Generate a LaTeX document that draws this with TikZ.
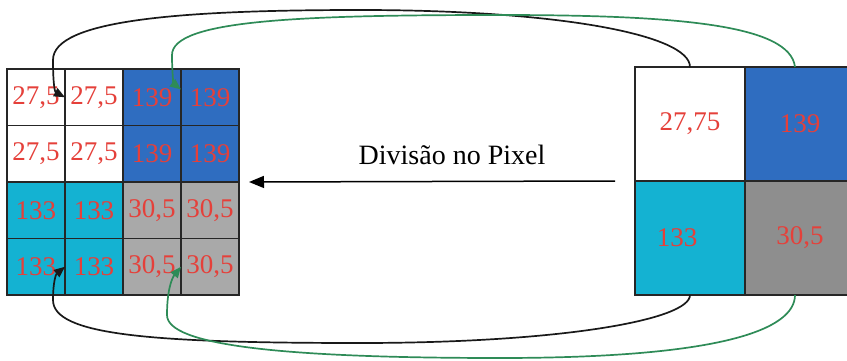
\documentclass[tikz,border=0pt]{standalone}
\usepackage{fontspec}
\setmainfont{Liberation Serif}
\usetikzlibrary{arrows.meta}
\definecolor{cellblue}{HTML}{2F6DC0}
\definecolor{cellcyan}{HTML}{14B2D2}
\definecolor{cellgray}{HTML}{A9A9A9}
\definecolor{darkgray}{HTML}{8E8E8E}
\definecolor{numred}{HTML}{E5403A}
\definecolor{linkgreen}{HTML}{2E8B57}
\begin{document}
\begin{tikzpicture}[x=1pt,y=-1pt,
  cell/.style={draw=black!85, line width=1.6pt, minimum width=58pt, minimum height=56.5pt,
    inner sep=0pt, outer sep=0pt, anchor=north west, text=numred,
    font=\fontsize{27}{27}\selectfont},
  bigcell/.style={cell, minimum width=110pt, minimum height=114pt},
  link/.style={line width=1.7pt, -{Triangle[length=11pt,width=9pt]}},
  mainarrow/.style={line width=1.5pt, -{Triangle[length=15pt,width=12pt]}}]
\useasboundingbox (0,0) rectangle (847,361);
\clip (0,0) rectangle (847,361);

% subdivided 4x4 grid
\node[cell, fill=white]     (L11) at (7,69)      {27,5};
\node[cell, fill=white]     (L12) at (65,69)     {27,5};
\node[cell, fill=cellblue]  (L13) at (123,69)    {139};
\node[cell, fill=cellblue]  (L14) at (181,69)    {139};
\node[cell, fill=white]     (L21) at (7,125.5)   {27,5};
\node[cell, fill=white]     (L22) at (65,125.5)  {27,5};
\node[cell, fill=cellblue]  (L23) at (123,125.5) {139};
\node[cell, fill=cellblue]  (L24) at (181,125.5) {139};
\node[cell, fill=cellcyan]  (L31) at (7,182)     {133};
\node[cell, fill=cellcyan]  (L32) at (65,182)    {133};
\node[cell, fill=cellgray]  (L33) at (123,182)   {30,5};
\node[cell, fill=cellgray]  (L34) at (181,182)   {30,5};
\node[cell, fill=cellcyan]  (L41) at (7,238.5)   {133};
\node[cell, fill=cellcyan]  (L42) at (65,238.5)  {133};
\node[cell, fill=cellgray]  (L43) at (123,238.5) {30,5};
\node[cell, fill=cellgray]  (L44) at (181,238.5) {30,5};

% original 2x2 pixel block
\node[bigcell, fill=white]    (R11) at (635,67)  {27,75};
\node[bigcell, fill=cellblue] (R12) at (745,67)  {139};
\node[bigcell, fill=cellcyan] (R21) at (635,181) {\hspace*{-26pt}133};
\node[bigcell, fill=darkgray] (R22) at (745,181) {30,5};

% division arrow and its label
\draw[mainarrow] ([xshift=-20pt]R21.north west) -- ([xshift=10pt]L24.south east);
\node[font=\fontsize{28}{28}\selectfont] (lbl) at (452,155) {Divisão no Pixel};

% value links from the original pixels to the subdivided cells
\draw[link, black!90] (R11.north)
  .. controls (690,35) and (560,10) .. (360,10)
  .. controls (180,10) and (53,20) .. (53,60)
  .. controls (53,85) and (55,92) .. (L11.east);
\draw[link, linkgreen] ([xshift=-5pt]R12.north)
  .. controls (790,25) and (680,15) .. (500,15)
  .. controls (300,15) and (172,20) .. (172,55)
  .. controls (172,75) and (174,84) .. (L13.15);
\draw[link, black!90] (R21.south)
  .. controls (690,320) and (560,343) .. (360,343)
  .. controls (150,343) and (53,335) .. (53,300)
  .. controls (53,282) and (56,274) .. (L41.east);
\draw[link, linkgreen] ([xshift=-5pt]R22.south)
  .. controls (795,330) and (720,358) .. (500,358)
  .. controls (280,358) and (167,345) .. (167,315)
  .. controls (167,290) and (172,278) .. (L43.east);
\end{tikzpicture}
\end{document}
